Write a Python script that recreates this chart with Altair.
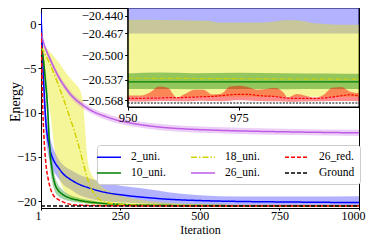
import altair as alt
import pandas as pd

FONT = "Liberation Serif"

# ---------------- main plot data ----------------
blue_it = [1, 4, 8, 12, 16, 20, 28, 35, 45, 55, 70, 95, 120, 150, 200, 275, 345, 400, 500, 625, 800, 1000]
blue_mean = [1.2, -1.8, -5.5, -8.5, -11.0, -12.4, -14.0, -14.9, -15.7, -16.2, -16.9, -17.6, -18.1, -18.5, -19.0,
             -19.4, -19.65, -19.8, -19.95, -20.05, -20.12, -20.18]
blue_hi = [2.4, 0.3, -3.0, -6.5, -9.2, -10.8, -12.6, -13.6, -14.5, -15.2, -15.9, -16.5, -17.0, -17.4, -17.9,
           -18.4, -18.7, -19.0, -19.35, -19.5, -19.5, -19.45]
blue_lo = [0.0, -3.8, -7.8, -10.5, -12.8, -14.0, -15.4, -16.2, -16.9, -17.4, -18.1, -18.7, -19.3, -19.7, -20.0,
           -20.2, -20.32, -20.38, -20.42, -20.44, -20.46, -20.467]

green_it = [1, 5, 10, 15, 20, 23, 26, 30, 35, 40, 45, 55, 65, 75, 90, 117, 150, 180, 250, 350, 500, 700, 1000]
green_mean = [-2.4, -3.2, -4.5, -6.5, -8.5, -10.3, -12.5, -14.8, -16.3, -17.4, -18.1, -18.8, -19.15, -19.4,
              -19.65, -19.9, -20.1, -20.22, -20.38, -20.47, -20.51, -20.53, -20.54]
green_hi = [-2.1, -2.8, -3.7, -5.3, -7.0, -8.6, -10.7, -13.2, -15.0, -16.4, -17.25, -18.15, -18.6, -18.95,
            -19.3, -19.62, -19.9, -20.07, -20.30, -20.43, -20.49, -20.515, -20.528]
green_lo = [-2.7, -3.6, -5.3, -7.7, -10.0, -12.0, -14.3, -16.4, -17.6, -18.4, -18.95, -19.45, -19.7, -19.85,
            -20.0, -20.18, -20.3, -20.37, -20.46, -20.51, -20.53, -20.545, -20.551]

yellow_it = [1, 15, 30, 45, 60, 75, 90, 105, 115, 125, 135, 140, 145, 150, 160, 175, 190, 210, 240, 275, 320,
             400, 500, 700, 1000]
yellow_mean = [-2.6, -3.5, -4.6, -5.9, -7.3, -8.8, -10.4, -12.0, -13.2, -14.5, -15.9, -16.6, -17.2, -17.8,
               -18.7, -19.5, -19.95, -20.2, -20.35, -20.43, -20.47, -20.5, -20.52, -20.53, -20.535]
yellow_hi = [-2.2, -2.6, -3.2, -3.8, -4.5, -5.3, -6.0, -6.6, -7.0, -7.6, -9.5, -12.0, -14.5, -16.0, -17.0,
             -17.7, -18.3, -18.8, -19.2, -19.6, -19.9, -20.2, -20.36, -20.43, -20.447]
yellow_lo = [-3.0, -6.0, -10.0, -14.5, -17.6, -18.9, -19.5, -19.85, -20.0, -20.1, -20.2, -20.23, -20.26, -20.3,
             -20.35, -20.4, -20.44, -20.47, -20.5, -20.52, -20.535, -20.545, -20.553, -20.56, -20.5625]

purple_it = [1, 10, 20, 30, 40, 60, 80, 100, 130, 160, 200, 250, 300, 375, 450, 550, 650, 800, 1000]
purple_mean = [-1.0, -2.2, -3.2, -4.0, -4.8, -6.2, -7.3, -8.2, -9.1, -9.8, -10.4, -10.95, -11.3, -11.65,
               -11.85, -12.0, -12.1, -12.2, -12.3]
purple_hi = [-0.7, -1.85, -2.85, -3.65, -4.45, -5.85, -6.95, -7.85, -8.75, -9.45, -10.05, -10.6, -10.95,
             -11.3, -11.5, -11.65, -11.75, -11.85, -11.95]
purple_lo = [-1.3, -2.55, -3.55, -4.35, -5.15, -6.55, -7.65, -8.55, -9.45, -10.15, -10.75, -11.3, -11.65,
             -12.0, -12.2, -12.35, -12.45, -12.55, -12.65]

red_it = [1, 3, 5, 7, 10, 13, 17, 23, 30, 39, 50, 64, 80, 95, 125, 150, 200, 300, 500, 1000]
red_mean = [-1.0, -4.0, -7.5, -10.0, -12.5, -14.3, -16.0, -17.4, -18.5, -19.3, -19.7, -20.0, -20.25, -20.4,
            -20.47, -20.5, -20.53, -20.55, -20.56, -20.56]

ground_it = [1, 1000]
ground_val = [-20.572, -20.572]

# ---------------- inset data ----------------
in_blue_it = [950, 1002]
in_blue_lo = [-20.467, -20.467]
in_blue_hi = [-19.45, -19.45]

in_yellow_it = [950, 955, 960, 962, 968, 970, 975, 980, 983, 985, 988, 990, 992, 995, 1000, 1002]
in_yellow_hi = [-20.4465, -20.4465, -20.447, -20.4471, -20.448, -20.4504, -20.4504, -20.4504, -20.449,
                -20.447, -20.447, -20.449, -20.4518, -20.453, -20.454, -20.454]
in_yellow_lo = [-20.5625] * len(in_yellow_it)
in_yellow_line_it = [950, 1002]
in_yellow_mean = [-20.5345, -20.5362]

in_green_it = [950, 957, 965, 975, 985, 995, 1002]
in_green_mean = [-20.540, -20.540, -20.540, -20.5401, -20.5401, -20.5402, -20.5402]
in_green_hi = [-20.5275, -20.526, -20.527, -20.5265, -20.527, -20.5275, -20.528]
in_green_lo = [-20.551, -20.551, -20.5512, -20.551, -20.5512, -20.551, -20.551]

in_red_it = [950, 953, 955, 957, 959, 961, 963, 965, 967, 969, 971, 973, 975, 977, 979, 981, 983, 985, 986,
             988, 990, 992, 994, 996, 998, 1000, 1002]
in_red_hi = [-20.5605, -20.5605, -20.556, -20.547, -20.549, -20.5635, -20.558, -20.552, -20.552, -20.559,
             -20.558, -20.547, -20.546, -20.548, -20.552, -20.551, -20.549, -20.556, -20.5635, -20.5585,
             -20.561, -20.564, -20.56, -20.549, -20.548, -20.555, -20.557]
in_red_mean = [-20.565, -20.565, -20.5645, -20.5645, -20.564, -20.564, -20.5635, -20.563, -20.5625, -20.562,
               -20.561, -20.5595, -20.559, -20.559, -20.5605, -20.5615, -20.562, -20.564, -20.5645, -20.565,
               -20.565, -20.565, -20.5645, -20.563, -20.561, -20.5595, -20.5615]
in_red_lo = [-20.5695, -20.5698, -20.5695, -20.569, -20.569, -20.5692, -20.5695, -20.5688, -20.5685, -20.569,
             -20.5692, -20.5685, -20.568, -20.5682, -20.569, -20.5693, -20.5695, -20.5698, -20.57, -20.57,
             -20.5698, -20.5695, -20.5692, -20.569, -20.5688, -20.569, -20.5692]

in_ground_it = [950, 1002]
in_ground_val = [-20.572, -20.572]

# ---------------- labels / ticks ----------------
SERIES = ["2_uni.", "10_uni.", "18_uni.", "26_uni.", "26_red.", "Ground"]
COLORS = ["#0000ff", "#008000", "#d2d200", "#bf5ce6", "#ff0000", "#000000"]
DASHES = [[1, 0], [1, 0], [6, 2, 1.5, 2], [1, 0], [4, 2], [4, 2]]
IN_DASHES = [[1, 0], [1, 0], [4, 1.5, 1, 1.5], [1, 0], [2.5, 1.3], [2, 1.3]]
x_ticks = [1, 250, 500, 750, 1000]
y_ticks = [0, -5, -10, -15, -20]
in_x_ticks = [950, 975]
in_y_ticks = [-20.440, -20.467, -20.500, -20.537, -20.568]

W, H = 318, 200

# ---------------- main encodings ----------------
x_main = alt.X("it:Q", scale=alt.Scale(domain=[1, 1000], nice=False, zero=False),
               axis=alt.Axis(values=x_ticks, format="d", title="Iteration", labelFontSize=12,
                             titleFontSize=12, tickSize=2, labelPadding=0, labelFlush=True,
                             labelFlushOffset=6, labelOverlap=False, titleBaseline="alphabetic",
                             titleY=25.3))
y_scale = alt.Scale(domain=[-20.79, 1.81], nice=False, zero=False)
y_axis = alt.Axis(values=y_ticks, format="d", title="Energy", labelFontSize=12.5, titleFontSize=14,
                  tickSize=3, labelPadding=2, labelOverlap=False, titleAngle=270, titleBaseline="top",
                  titleAlign="center", titleX=-33, titleY=93.5)


def band(it, lo, hi, color, op):
    df = pd.DataFrame({"it": it, "lo": lo, "hi": hi})
    return alt.Chart(df).mark_area(color=color, opacity=op, clip=True, interpolate="monotone").encode(
        x=x_main, y=alt.Y("lo:Q", scale=y_scale, axis=y_axis), y2="hi:Q")


main_bands = [
    band(blue_it, blue_lo, blue_hi, "#0000ff", 0.3),
    band(yellow_it, yellow_lo, yellow_hi, "#e6e600", 0.4),
    band(green_it, green_lo, green_hi, "#008000", 0.35),
    band(purple_it, purple_lo, purple_hi, "#bf5ce6", 0.3),
]

rows = []
for name, its, vals in [("2_uni.", blue_it, blue_mean), ("10_uni.", green_it, green_mean),
                        ("18_uni.", yellow_it, yellow_mean), ("26_uni.", purple_it, purple_mean),
                        ("26_red.", red_it, red_mean), ("Ground", ground_it, ground_val)]:
    for i, v in zip(its, vals):
        rows.append({"it": i, "E": v, "series": name})
lines_df = pd.DataFrame(rows)

legend = alt.Legend(title=None, orient="none", legendX=56, legendY=137, columns=3, symbolType="M-2,0H2",
                    symbolSize=144, symbolStrokeWidth=1.5, labelFontSize=11.5, labelOffset=15,
                    columnPadding=22, rowPadding=3, padding=5, fillColor="white", strokeColor="#cccccc",
                    cornerRadius=3, labelFont=FONT, labelLimit=200)

main_lines = alt.Chart(lines_df).mark_line(strokeWidth=1.5, clip=True, interpolate="monotone").encode(
    x=x_main, y=alt.Y("E:Q", scale=y_scale, axis=y_axis),
    stroke=alt.Stroke("series:N", scale=alt.Scale(domain=SERIES, range=COLORS), legend=legend),
    strokeDash=alt.StrokeDash("series:N", scale=alt.Scale(domain=SERIES, range=DASHES), legend=legend),
)

main = alt.layer(*main_bands, main_lines)

# ---------------- inset ----------------
xi_scale = alt.Scale(domain=[950, 1002], range=[86.7, W], nice=False, zero=False)
yi_scale = alt.Scale(domain=[-20.578, -20.4286], range=[99, 0], nice=False, zero=False, clamp=True)
xi_axis = alt.Axis(orient="bottom", offset=-(H - 99), values=in_x_ticks, format="d", title=None, zindex=1,
                   labelFontSize=12.5, tickSize=3, labelPadding=1, labelFlush=False, labelOverlap=False)
yi_axis = alt.Axis(orient="left", offset=-86.7, values=in_y_ticks, format=".3f", title=None, zindex=1,
                   labelFontSize=12.5, tickSize=3, labelPadding=2, labelOverlap=False, labelFlush=False)

frame_df = pd.DataFrame({"x0": [950], "x1": [1002], "y0": [-20.578], "y1": [-20.4286]})
frame = alt.Chart(frame_df).mark_rect(fill="white", stroke="black", strokeWidth=1).encode(
    x=alt.X("x0:Q", scale=xi_scale, axis=xi_axis), x2="x1:Q",
    y=alt.Y("y0:Q", scale=yi_scale, axis=yi_axis), y2="y1:Q")


def iband(it, lo, hi, color, op):
    df = pd.DataFrame({"it": it, "lo": lo, "hi": hi})
    return alt.Chart(df).mark_area(color=color, opacity=op, interpolate="monotone").encode(
        x=alt.X("it:Q", scale=xi_scale, axis=xi_axis), y=alt.Y("lo:Q", scale=yi_scale, axis=yi_axis),
        y2="hi:Q")


in_bands = [
    iband(in_blue_it, in_blue_lo, in_blue_hi, "#0000ff", 0.3),
    iband(in_yellow_it, in_yellow_lo, in_yellow_hi, "#e6e600", 0.4),
    iband(in_green_it, in_green_lo, in_green_hi, "#008000", 0.4),
    iband(in_red_it, in_red_lo, in_red_hi, "#ff0000", 0.45),
]

irows = []
for name, its, vals in [("18_uni.", in_yellow_line_it, in_yellow_mean), ("10_uni.", in_green_it, in_green_mean),
                        ("26_red.", in_red_it, in_red_mean), ("Ground", in_ground_it, in_ground_val)]:
    for i, v in zip(its, vals):
        irows.append({"it": i, "E": v, "series": name})
in_lines_df = pd.DataFrame(irows)

in_lines = alt.Chart(in_lines_df).mark_line(strokeWidth=1.2, interpolate="monotone").encode(
    x=alt.X("it:Q", scale=xi_scale, axis=xi_axis), y=alt.Y("E:Q", scale=yi_scale, axis=yi_axis),
    stroke=alt.Stroke("series:N", scale=alt.Scale(domain=SERIES, range=COLORS), legend=None),
    strokeDash=alt.StrokeDash("series:N", scale=alt.Scale(domain=SERIES, range=IN_DASHES), legend=None),
)

inset = alt.layer(frame, *in_bands, in_lines)

chart = alt.layer(main, inset).resolve_scale(
    x="independent", y="independent", stroke="independent", strokeDash="independent"
).properties(
    width=W, height=H,
    padding={"left": 33, "top": 0, "right": 7, "bottom": 28},
    autosize=alt.AutoSizeParams(type="none"),
).configure(font=FONT).configure_view(stroke="black", strokeWidth=1).configure_axis(
    grid=False, labelFont=FONT, titleFont=FONT, labelColor="black", titleColor="black",
    tickColor="black", domainColor="black", titleFontWeight="normal"
)

chart.save("out.html", embed_options={"renderer": "svg", "actions": False})
